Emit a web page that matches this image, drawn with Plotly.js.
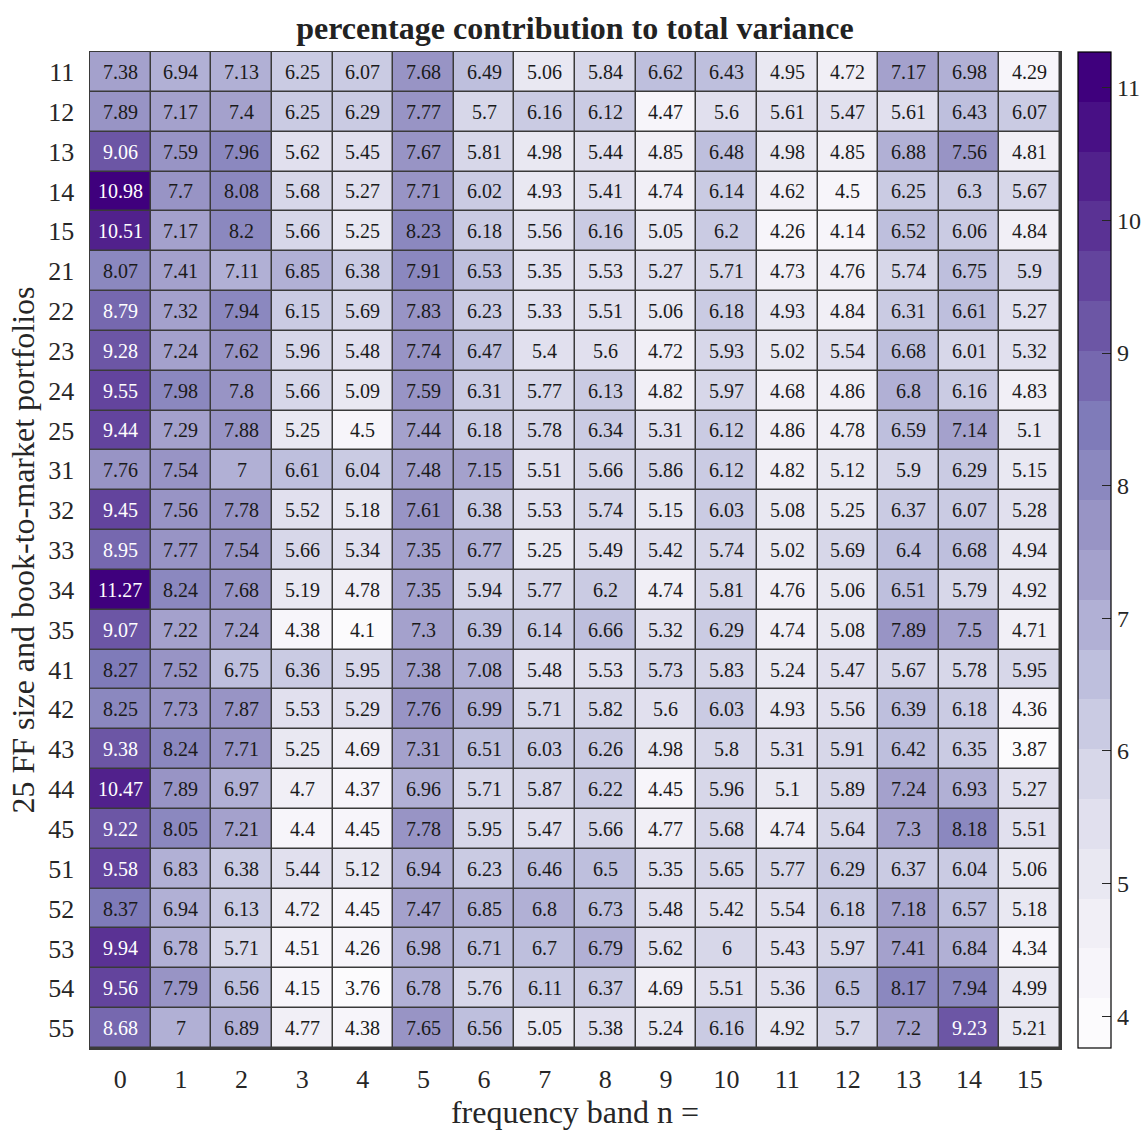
<!DOCTYPE html>
<html>
<head>
<meta charset="utf-8">
<script src="https://cdn.plot.ly/plotly-3.0.1.min.js"></script>
<style>html,body{margin:0;padding:0;background:#fff;}</style>
</head>
<body>
<div id="chart" style="width:1148px;height:1133px;"></div>
<script>
const portfolios = ["11","12","13","14","15","21","22","23","24","25","31","32","33","34","35","41","42","43","44","45","51","52","53","54","55"];
const bands = [0,1,2,3,4,5,6,7,8,9,10,11,12,13,14,15];
const values = [
[7.38,6.94,7.13,6.25,6.07,7.68,6.49,5.06,5.84,6.62,6.43,4.95,4.72,7.17,6.98,4.29],
[7.89,7.17,7.4,6.25,6.29,7.77,5.7,6.16,6.12,4.47,5.6,5.61,5.47,5.61,6.43,6.07],
[9.06,7.59,7.96,5.62,5.45,7.67,5.81,4.98,5.44,4.85,6.48,4.98,4.85,6.88,7.56,4.81],
[10.98,7.7,8.08,5.68,5.27,7.71,6.02,4.93,5.41,4.74,6.14,4.62,4.5,6.25,6.3,5.67],
[10.51,7.17,8.2,5.66,5.25,8.23,6.18,5.56,6.16,5.05,6.2,4.26,4.14,6.52,6.06,4.84],
[8.07,7.41,7.11,6.85,6.38,7.91,6.53,5.35,5.53,5.27,5.71,4.73,4.76,5.74,6.75,5.9],
[8.79,7.32,7.94,6.15,5.69,7.83,6.23,5.33,5.51,5.06,6.18,4.93,4.84,6.31,6.61,5.27],
[9.28,7.24,7.62,5.96,5.48,7.74,6.47,5.4,5.6,4.72,5.93,5.02,5.54,6.68,6.01,5.32],
[9.55,7.98,7.8,5.66,5.09,7.59,6.31,5.77,6.13,4.82,5.97,4.68,4.86,6.8,6.16,4.83],
[9.44,7.29,7.88,5.25,4.5,7.44,6.18,5.78,6.34,5.31,6.12,4.86,4.78,6.59,7.14,5.1],
[7.76,7.54,7,6.61,6.04,7.48,7.15,5.51,5.66,5.86,6.12,4.82,5.12,5.9,6.29,5.15],
[9.45,7.56,7.78,5.52,5.18,7.61,6.38,5.53,5.74,5.15,6.03,5.08,5.25,6.37,6.07,5.28],
[8.95,7.77,7.54,5.66,5.34,7.35,6.77,5.25,5.49,5.42,5.74,5.02,5.69,6.4,6.68,4.94],
[11.27,8.24,7.68,5.19,4.78,7.35,5.94,5.77,6.2,4.74,5.81,4.76,5.06,6.51,5.79,4.92],
[9.07,7.22,7.24,4.38,4.1,7.3,6.39,6.14,6.66,5.32,6.29,4.74,5.08,7.89,7.5,4.71],
[8.27,7.52,6.75,6.36,5.95,7.38,7.08,5.48,5.53,5.73,5.83,5.24,5.47,5.67,5.78,5.95],
[8.25,7.73,7.87,5.53,5.29,7.76,6.99,5.71,5.82,5.6,6.03,4.93,5.56,6.39,6.18,4.36],
[9.38,8.24,7.71,5.25,4.69,7.31,6.51,6.03,6.26,4.98,5.8,5.31,5.91,6.42,6.35,3.87],
[10.47,7.89,6.97,4.7,4.37,6.96,5.71,5.87,6.22,4.45,5.96,5.1,5.89,7.24,6.93,5.27],
[9.22,8.05,7.21,4.4,4.45,7.78,5.95,5.47,5.66,4.77,5.68,4.74,5.64,7.3,8.18,5.51],
[9.58,6.83,6.38,5.44,5.12,6.94,6.23,6.46,6.5,5.35,5.65,5.77,6.29,6.37,6.04,5.06],
[8.37,6.94,6.13,4.72,4.45,7.47,6.85,6.8,6.73,5.48,5.42,5.54,6.18,7.18,6.57,5.18],
[9.94,6.78,5.71,4.51,4.26,6.98,6.71,6.7,6.79,5.62,6,5.43,5.97,7.41,6.84,4.34],
[9.56,7.79,6.56,4.15,3.76,6.78,5.76,6.11,6.37,4.69,5.51,5.36,6.5,8.17,7.94,4.99],
[8.68,7,6.89,4.77,4.38,7.65,6.56,5.05,5.38,5.24,6.16,4.92,5.7,7.2,9.23,5.21]
];
const colorbarTicks = [4,5,6,7,8,9,10,11];

// ColorBrewer Purples, sampled into 20 discrete levels
const purples = ["#fcfbfd","#efedf5","#dadaeb","#bcbddc","#9e9ac8","#807dba","#6a51a3","#54278f","#3f007d"];
function hex2rgb(h){return [parseInt(h.slice(1,3),16),parseInt(h.slice(3,5),16),parseInt(h.slice(5,7),16)];}
function interp(t){
  const p = t*(purples.length-1);
  const i = Math.min(Math.floor(p), purples.length-2);
  const f = p - i;
  const a = hex2rgb(purples[i]), b = hex2rgb(purples[i+1]);
  return 'rgb(' + a.map((v,k)=>Math.round(v+(b[k]-v)*f)).join(',') + ')';
}
const nLevels = 20;
const cscale = [];
for (let i=0;i<nLevels;i++){
  const c = interp(i/(nLevels-1));
  cscale.push([i/nLevels, c]);
  cscale.push([(i+1)/nLevels, c]);
}

const zmin = 3.76, zmax = 11.27;
const serif = "Liberation Serif, Times New Roman, serif";
const rowIdx = portfolios.map((_, i) => i);

const annotations = [];
values.forEach((row, r) => {
  row.forEach((v, c) => {
    annotations.push({
      x: bands[c], y: rowIdx[r], xref: 'x', yref: 'y',
      text: String(v), showarrow: false,
      font: {family: serif, size: 20, color: v >= 8.5 ? '#ffffff' : '#1a1a1a'}
    });
  });
});

const trace = {
  type: 'heatmap',
  x: bands, y: rowIdx, z: values,
  zmin: zmin, zmax: zmax,
  colorscale: cscale,
  xgap: 1.5, ygap: 1.5,
  hoverinfo: 'skip',
  colorbar: {
    x: (1078-90)/970, xanchor: 'left', xref: 'paper',
    y: 0.5, yanchor: 'middle', len: 1, lenmode: 'fraction',
    thickness: 33, outlinecolor: '#000', outlinewidth: 1.2,
    tickvals: colorbarTicks, ticks: 'inside', ticklen: 9, tickcolor: '#262626',
    tickfont: {family: serif, size: 24, color: '#262626'},
    xpad: 0, ypad: 0
  }
};

const layout = {
  width: 1148, height: 1133,
  margin: {l: 90, r: 88, t: 52, b: 85, autoexpand: false},
  paper_bgcolor: '#ffffff', plot_bgcolor: '#3a3a3a',
  title: {
    text: '<b>percentage contribution to total variance</b>',
    font: {family: serif, size: 32, color: '#222222'},
    x: (575)/1148, xanchor: 'center', xref: 'container',
    y: 1 - 28/1133, yanchor: 'middle', yref: 'container'
  },
  xaxis: {
    tickvals: bands, ticks: '', showgrid: false, zeroline: false,
    range: [-0.5, 15.5],
    showline: true, mirror: true, linecolor: '#3a3a3a', linewidth: 1.5,
    tickfont: {family: serif, size: 26, color: '#262626'},
    ticklabelstandoff: 7,
    title: {text: 'frequency band n =', font: {family: serif, size: 32, color: '#262626'}, standoff: 8}
  },
  yaxis: {
    range: [portfolios.length - 0.5, -0.5],
    tickmode: 'array', tickvals: rowIdx, ticktext: portfolios,
    ticks: '', showgrid: false, zeroline: false,
    showline: true, mirror: true, linecolor: '#3a3a3a', linewidth: 1.5,
    tickfont: {family: serif, size: 26, color: '#262626'},
    ticklabelstandoff: 9,
    title: {text: '25 FF size and book-to-market portfolios', font: {family: serif, size: 32, color: '#262626'}, standoff: 4}
  },
  annotations: annotations
};

Plotly.newPlot('chart', [trace], layout, {staticPlot: true, displayModeBar: false});
</script>
</body>
</html>
